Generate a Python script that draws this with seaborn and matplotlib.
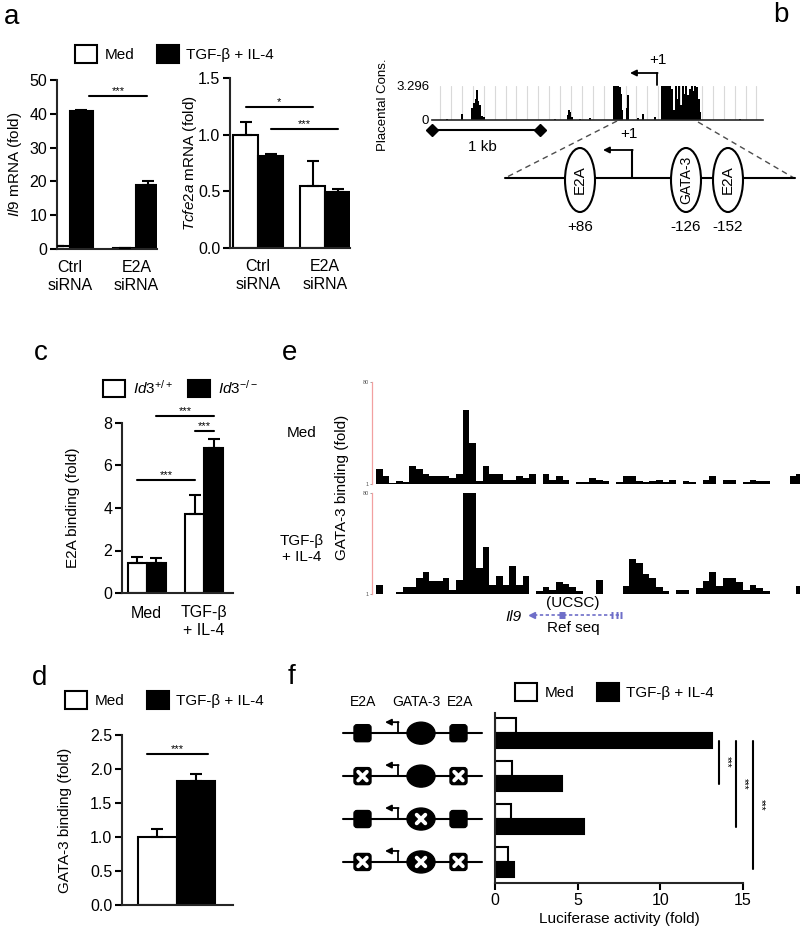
import numpy as np
import pandas as pd
import matplotlib
matplotlib.use('Agg')
import matplotlib.pyplot as plt
import seaborn as sns
from matplotlib.patches import Patch, Ellipse, FancyBboxPatch

nan = np.nan

# ---------------- data ----------------
# a: qPCR after siRNA
sirna_groups = ['Ctrl\nsiRNA', 'E2A\nsiRNA']
il9_med = [0.8, 0.3]
il9_med_err = [0.2, 0.1]
il9_tgf = [40.8, 19.0]
il9_tgf_err = [0.3, 1.0]
tcfe2a_med = [1.0, 0.55]
tcfe2a_med_err = [0.11, 0.22]
tcfe2a_tgf = [0.81, 0.49]
tcfe2a_tgf_err = [0.02, 0.03]

# b: placental conservation track (bp from track start, score)
cons_pos = [139, 278, 370, 389, 407, 417, 426, 444, 463, 481, 1139, 1259, 1269, 1278,
            1296, 1370, 1463, 1685, 1704, 1722, 1741, 1750, 1759, 1805, 1815, 1907, 1954,
            2065, 2130, 2148, 2167, 2185, 2204, 2222, 2241, 2259, 2269, 2287, 2306, 2324,
            2343, 2352, 2370, 2389, 2407, 2426, 2435, 2454, 2472, 2481, 2852]
cons_val = [0.1, 0.6, 1.2, 1.6, 2.0, 2.9, 1.8, 1.5, 0.4, 0.3, 0.1, 0.5, 1.0, 0.8,
            0.3, 0.1, 0.15, 3.3, 3.3, 3.3, 3.2, 2.5, 1.0, 1.2, 2.4, 0.2, 0.6,
            0.3, 3.3, 3.3, 3.3, 3.3, 3.3, 3.0, 1.0, 3.3, 2.0, 3.3, 1.5, 3.3,
            2.5, 3.3, 2.4, 3.0, 3.3, 2.8, 3.3, 3.2, 2.0, 0.8, 0.05]

# c: E2A ChIP
stim_groups = ['Med', 'TGF-β\n+ IL-4']
e2a_wt = [1.4, 3.7]
e2a_wt_err = [0.28, 0.9]
e2a_ko = [1.42, 6.8]
e2a_ko_err = [0.23, 0.45]

# d: GATA-3 ChIP
gata3_conds = ['Med', 'TGF']
gata3_bind = [1.0, 1.83]
gata3_bind_err = [0.12, 0.1]

# e: GATA-3 ChIP-seq tracks (binned, fold 1-80)
chip_med = [12.5, 6.9, 1.5, 3.0, 2.5, 14.6, 12.5, 8.7, 6.9, 6.9,
            6.9, 5.6, 8.7, 58, 32.5, 3.6, 14.6, 8.7, 8.7, 4.3,
            4.3, 6.9, 5.6, 8.7, nan, 8.7, 4.3, 6.9, 4.3, nan,
            2.3, 2.3, 5.6, 4.3, 3.6, nan, 2.3, 6.9, 6.9, 3.0,
            2.3, 3.6, 4.3, 2.3, 4.3, nan, 3.6, 2.3, nan, 4.3,
            6.9, nan, 4.3, 4.3, nan, 2.3, 4.3, 3.6, 3.6, nan,
            nan, nan, 6.9, 8.7]
chip_tgf = [8.3, nan, nan, 2.3, 6.2, 6.2, 13.4, 18, 11.4, 10.8,
            13.4, 4.4, 12, 80, 80, 21, 38, 8.3, 14.7, 8.3,
            23, 8.3, 14.7, 1.2, 3.6, 6.2, 4.4, 10, 8.8, 6.2,
            3.6, nan, nan, 12, 1.2, 1.2, 1.2, 7, 28.5, 25,
            16.5, 13.4, 6.2, 3.6, nan, 4.4, 4.4, nan, 5.6, 11,
            18.5, 7, 13.4, 13.4, 10, 4.4, 8.3, 5.6, 3, nan,
            nan, nan, nan, 7]

# f: luciferase reporters
constructs = ['WT', 'E2A mut', 'GATA-3 mut', 'double mut']
e2a_site_mut = [False, True, False, True]
gata_site_mut = [False, False, True, True]
luc_med = [1.25, 1.0, 0.95, 0.8]
luc_tgf = [13.1, 4.05, 5.4, 1.15]

# ---------------- style ----------------
sns.set_style('ticks')
plt.rcParams['font.family'] = ['Liberation Sans', 'DejaVu Sans']
plt.rcParams['mathtext.fontset'] = 'custom'
plt.rcParams['mathtext.rm'] = 'Liberation Sans'
plt.rcParams['mathtext.it'] = 'Liberation Sans:italic'
plt.rcParams['mathtext.bf'] = 'Liberation Sans:bold'
plt.rcParams['text.color'] = 'black'
plt.rcParams['axes.labelcolor'] = 'black'
plt.rcParams['xtick.color'] = 'black'
plt.rcParams['ytick.color'] = 'black'

PAL = {'Med': 'white', 'TGF': 'black'}
TICK_FS = 11.5
LAB_FS = 11

W, H = 800, 931
fig = plt.figure(figsize=(W / 100, H / 100), dpi=100)


def px_axes(x0, y0, x1, y1):
    return fig.add_axes([x0 / W, 1 - y1 / H, (x1 - x0) / W, (y1 - y0) / H])


def style_bar_axes(ax):
    sns.despine(ax=ax)
    for s in ['left', 'bottom']:
        ax.spines[s].set_linewidth(1.5)
    ax.tick_params(axis='y', length=5, width=1.5, labelsize=TICK_FS, pad=2)
    ax.tick_params(axis='x', length=0, labelsize=TICK_FS, pad=8)
    ax.set_xlabel('')


def grouped_bars(ax, groups, med, tgf, width):
    df = pd.DataFrame({'group': list(groups) * 2,
                       'cond': ['Med'] * len(groups) + ['TGF'] * len(groups),
                       'value': list(med) + list(tgf)})
    sns.barplot(data=df, x='group', y='value', hue='cond', palette=PAL,
                edgecolor='black', linewidth=1.5, width=width, errorbar=None,
                legend=False, saturation=1, ax=ax)


def add_err(ax, errs):
    for cont, ee in zip(ax.containers, errs):
        for bar, e in zip(cont, ee):
            xc = bar.get_x() + bar.get_width() / 2
            ax.errorbar(xc, bar.get_height(), yerr=[[0], [e]], fmt='none', ecolor='black',
                        elinewidth=1.5, capsize=4, capthick=1.5, zorder=4)


def centers(ax, k):
    return [b.get_x() + b.get_width() / 2 for b in ax.containers[k]]


def sig(ax, x0, x1, y, txt='***', fs=8):
    ax.plot([x0, x1], [y, y], color='black', lw=1.5, clip_on=False)
    ax.text((x0 + x1) / 2, y, txt, ha='center', va='bottom', fontsize=fs, clip_on=False)


def box_legend(x, y, labels, spacing=1.45):
    handles = [Patch(facecolor='white', edgecolor='black', linewidth=1.5),
               Patch(facecolor='black', edgecolor='black', linewidth=1.5)]
    fig.legend(handles, labels, loc='center left', bbox_to_anchor=(x / W, 1 - y / H),
               ncol=2, frameon=False, fontsize=LAB_FS, handlelength=1.45, handleheight=1.35,
               handletextpad=0.5, columnspacing=spacing, borderpad=0, borderaxespad=0)


# ---------------- a ----------------
axA1 = px_axes(57, 80, 157, 249)
grouped_bars(axA1, sirna_groups, il9_med, il9_tgf, 0.7)
add_err(axA1, [il9_med_err, il9_tgf_err])
axA1.set_xlim(-0.19, 1.31)
axA1.set_ylim(0, 50)
axA1.set_yticks([0, 10, 20, 30, 40, 50])
style_bar_axes(axA1)
axA1.set_ylabel(r'$\it{Il9}$ mRNA (fold)', fontsize=LAB_FS)
axA1.yaxis.set_label_coords(-0.33, 0.5)
c1 = centers(axA1, 1)
sig(axA1, c1[0] + 0.12, c1[1] - 0.02, 45.3)

axA2 = px_axes(230, 78, 350, 248)
grouped_bars(axA2, sirna_groups, tcfe2a_med, tcfe2a_tgf, 0.75)
add_err(axA2, [tcfe2a_med_err, tcfe2a_tgf_err])
axA2.set_xlim(-0.42, 1.37)
axA2.set_ylim(0, 1.5)
axA2.set_yticks([0, 0.5, 1.0, 1.5])
style_bar_axes(axA2)
axA2.set_ylabel(r'$\it{Tcfe2a}$ mRNA (fold)', fontsize=LAB_FS)
axA2.yaxis.set_label_coords(-0.26, 0.5)
c0, c1 = centers(axA2, 0), centers(axA2, 1)
sig(axA2, c0[0], c0[1], 1.24, '*')
sig(axA2, c1[0], c1[1], 1.05)
box_legend(75, 54, ['Med', 'TGF-β + IL-4'])

# ---------------- b ----------------
axB = px_axes(432, 86, 763, 120)
axB.bar(cons_pos, cons_val, width=16, color='black', linewidth=0)
axB.set_xlim(0, 3065)
axB.set_ylim(0, 3.296)
axB.set_xticks(np.arange(75, 3065, 101))
axB.grid(axis='x', color='0.85', lw=0.8)
axB.set_axisbelow(True)
axB.tick_params(axis='x', length=0, labelbottom=False)
axB.set_yticks([0, 3.296])
axB.set_yticklabels(['0', '3.296'])
axB.tick_params(axis='y', length=0, labelsize=9.5, pad=2)
for s in ['top', 'right', 'left']:
    axB.spines[s].set_visible(False)
axB.spines['bottom'].set_linewidth(1.2)
axB.set_ylabel('Placental Cons.', fontsize=9.5)
axB.yaxis.set_label_coords(-0.13, 0.45)

# ---------------- c ----------------
axC = px_axes(122, 423, 233, 593)
grouped_bars(axC, stim_groups, e2a_wt, e2a_ko, 0.66)
add_err(axC, [e2a_wt_err, e2a_ko_err])
axC.set_xlim(-0.43, 1.5)
axC.set_ylim(0, 8)
axC.set_yticks([0, 2, 4, 6, 8])
style_bar_axes(axC)
axC.tick_params(axis='x', pad=9)
axC.set_ylabel('E2A binding (fold)', fontsize=LAB_FS)
axC.yaxis.set_label_coords(-0.38, 0.5)
c0, c1 = centers(axC, 0), centers(axC, 1)
sig(axC, c0[0], c0[1], 5.3)
sig(axC, c1[0], c1[1], 8.33)
sig(axC, c0[1], c1[1], 7.6)
box_legend(103, 388, [r'$\it{Id3}^{+/+}$', r'$\it{Id3}^{-/-}$'], spacing=1.0)

# ---------------- d ----------------
axD = px_axes(122, 735, 233, 905)
sns.barplot(x=gata3_conds, y=gata3_bind, hue=gata3_conds, palette=PAL, edgecolor='black',
            linewidth=1.5, width=1.0, errorbar=None, legend=False, saturation=1, ax=axD)
for cont, e in zip(axD.containers, gata3_bind_err):
    for bar in cont:
        axD.errorbar(bar.get_x() + bar.get_width() / 2, bar.get_height(), yerr=[[0], [e]],
                     fmt='none', ecolor='black', elinewidth=1.5, capsize=4, capthick=1.5, zorder=4)
axD.set_xlim(-0.92, 1.96)
axD.set_ylim(0, 2.5)
axD.set_yticks([0, 0.5, 1.0, 1.5, 2.0, 2.5])
style_bar_axes(axD)
axD.set_xticks([])
axD.set_ylabel('GATA-3 binding (fold)', fontsize=LAB_FS)
axD.yaxis.set_label_coords(-0.45, 0.5)
sig(axD, -0.27, 1.31, 2.22)
box_legend(65, 700, ['Med', 'TGF-β + IL-4'])

# ---------------- e ----------------
for (y0, y1), vals in [((382, 484), chip_med), ((493, 594), chip_tgf)]:
    axE = px_axes(372, y0, 800, y1)
    v = np.array(vals, dtype=float)
    idx = np.arange(len(v))
    m = ~np.isnan(v)
    axE.bar(idx[m], v[m] - 1, bottom=1, width=1.0, color='black', linewidth=0)
    axE.set_xlim(-1.1, 63.07)
    axE.set_ylim(1, 80)
    for s in ['top', 'right', 'bottom']:
        axE.spines[s].set_visible(False)
    axE.spines['left'].set_color('#f2a0a0')
    axE.spines['left'].set_linewidth(0.9)
    axE.set_xticks([])
    axE.set_yticks([1, 80])
    axE.tick_params(axis='y', length=1.5, width=0.5, color='0.5', labelsize=4,
                    labelcolor='0.35', pad=1)

fig.text(342 / W, 1 - 487 / H, 'GATA-3 binding (fold)', rotation=90, ha='center', va='center',
         fontsize=LAB_FS)
fig.text(302 / W, 1 - 433 / H, 'Med', ha='center', va='center', fontsize=LAB_FS)
fig.text(302 / W, 1 - 549 / H, 'TGF-β\n+ IL-4', ha='center', va='center', fontsize=LAB_FS)

# ---------------- f ----------------
axF = px_axes(495, 713, 743, 883)
dfF = pd.DataFrame({'construct': constructs * 2,
                    'cond': ['Med'] * 4 + ['TGF'] * 4,
                    'value': luc_med + luc_tgf})
sns.barplot(data=dfF, x='value', y='construct', hue='cond', orient='h', palette=PAL,
            edgecolor='black', linewidth=1.5, width=0.7, errorbar=None, legend=False,
            saturation=1, ax=axF)
axF.set_xlim(0, 15)
axF.set_ylim(3.49, -0.47)
axF.set_yticks([])
axF.set_ylabel('')
axF.set_xticks([0, 5, 10, 15])
sns.despine(ax=axF)
for s in ['left', 'bottom']:
    axF.spines[s].set_linewidth(1.5)
axF.tick_params(axis='x', length=5, width=1.5, labelsize=TICK_FS, pad=2)
axF.set_xlabel('Luciferase activity (fold)', fontsize=LAB_FS, labelpad=3)
tgf_y = [b.get_y() + b.get_height() / 2 for b in axF.containers[1]]
for xs, j in zip([13.55, 14.58, 15.6], [1, 2, 3]):
    axF.plot([xs, xs], [tgf_y[0], tgf_y[j]], color='black', lw=1.5, clip_on=False)
    axF.text(xs + 0.45, (tgf_y[0] + tgf_y[j]) / 2, '***', rotation=270, ha='center',
             va='center', fontsize=7, clip_on=False)
box_legend(515, 692, ['Med', 'TGF-β + IL-4'])

# ---------------- overlay: schematics, labels ----------------
ov = fig.add_axes([0, 0, 1, 1])
ov.set_xlim(0, W)
ov.set_ylim(H, 0)
ov.set_axis_off()

arrow_kw = dict(arrowstyle='-|>', color='black', lw=1.3, mutation_scale=9, shrinkA=0, shrinkB=0)

# b annotations
ov.text(658, 60, '+1', ha='center', va='center', fontsize=LAB_FS)
ov.plot([657, 657], [85, 73], color='black', lw=1.3)
ov.annotate('', xy=(630, 73), xytext=(657.6, 73), arrowprops=arrow_kw)
ov.text(629, 134, '+1', ha='center', va='center', fontsize=LAB_FS)
ov.plot([432, 540], [130, 130], color='black', lw=1.5, marker='D', ms=6, markevery=[0, 1])
ov.text(482, 147, '1 kb', ha='center', va='center', fontsize=LAB_FS)
ov.plot([617, 505], [121, 178], color='0.3', ls=(0, (4, 3)), lw=1)
ov.plot([698, 794], [122, 178], color='0.3', ls=(0, (4, 3)), lw=1)
ov.plot([505, 795], [178, 178], color='black', lw=1.5)
ov.plot([632, 632], [178, 150], color='black', lw=1.5)
ov.annotate('', xy=(603, 150), xytext=(632.7, 150), arrowprops=arrow_kw)
for cx, lab, num in [(580, 'E2A', '+86'), (686, 'GATA-3', '-126'), (728, 'E2A', '-152')]:
    ov.add_patch(Ellipse((cx, 180), 30, 64, facecolor='white', edgecolor='black', lw=1.5, zorder=3))
    ov.text(cx, 180, lab, rotation=90, ha='center', va='center',
            fontsize=10 if lab == 'GATA-3' else LAB_FS, zorder=4)
    ov.text(cx, 227, num, ha='center', va='center', fontsize=LAB_FS)

# e gene model
gcol = '#6e6ec8'
ov.plot([534, 621], [615, 615], color=gcol, lw=1.2, ls=(0, (2, 1.5)))
ov.plot([532], [615], marker='<', color=gcol, ms=5)
for xa, xb in [(559, 565), (611, 613), (616, 618), (620, 622)]:
    ov.plot([xa, xb], [615, 615], color=gcol, lw=5, solid_capstyle='butt')
ov.text(573, 603, '(UCSC)', ha='center', va='center', fontsize=LAB_FS)
ov.text(573, 628, 'Ref seq', ha='center', va='center', fontsize=LAB_FS)
ov.text(513, 617, 'Il9', ha='center', va='center', fontsize=LAB_FS, style='italic')

# f constructs
def white_x(x, y, s=4.3):
    ov.plot([x - s, x + s], [y - s, y + s], color='white', lw=2.8, solid_capstyle='round', zorder=5)
    ov.plot([x - s, x + s], [y + s, y - s], color='white', lw=2.8, solid_capstyle='round', zorder=5)


to_ov = ov.transData.inverted()
for i in range(len(constructs)):
    yr = to_ov.transform(axF.transData.transform((0, i)))[1]
    ov.plot([343, 482], [yr, yr], color='black', lw=1.5, zorder=2)
    for sx in (362.5, 458.5):
        ov.add_patch(FancyBboxPatch((sx - 8.5, yr - 8.5), 17, 17,
                                    boxstyle='round,pad=0,rounding_size=3',
                                    facecolor='black', edgecolor='black', zorder=3))
        if e2a_site_mut[i]:
            white_x(sx, yr)
    ov.add_patch(Ellipse((421, yr), 28, 22, facecolor='black', edgecolor='black', zorder=3))
    if gata_site_mut[i]:
        white_x(421, yr)
    ov.plot([398, 398], [yr, yr - 11], color='black', lw=1.3)
    ov.annotate('', xy=(385, yr - 11), xytext=(398.6, yr - 11), arrowprops=arrow_kw)
ov.text(363, 702, 'E2A', ha='center', va='center', fontsize=10)
ov.text(416, 702, 'GATA-3', ha='center', va='center', fontsize=10)
ov.text(460, 702, 'E2A', ha='center', va='center', fontsize=10)

# panel letters
for lab, x, y in [('a', 12, 17), ('b', 781, 15), ('c', 41, 353), ('e', 290, 353),
                  ('d', 40, 678), ('f', 292, 677)]:
    fig.text(x / W, 1 - y / H, lab, ha='center', va='center', fontsize=20)

plt.savefig('out.png', dpi=100)
